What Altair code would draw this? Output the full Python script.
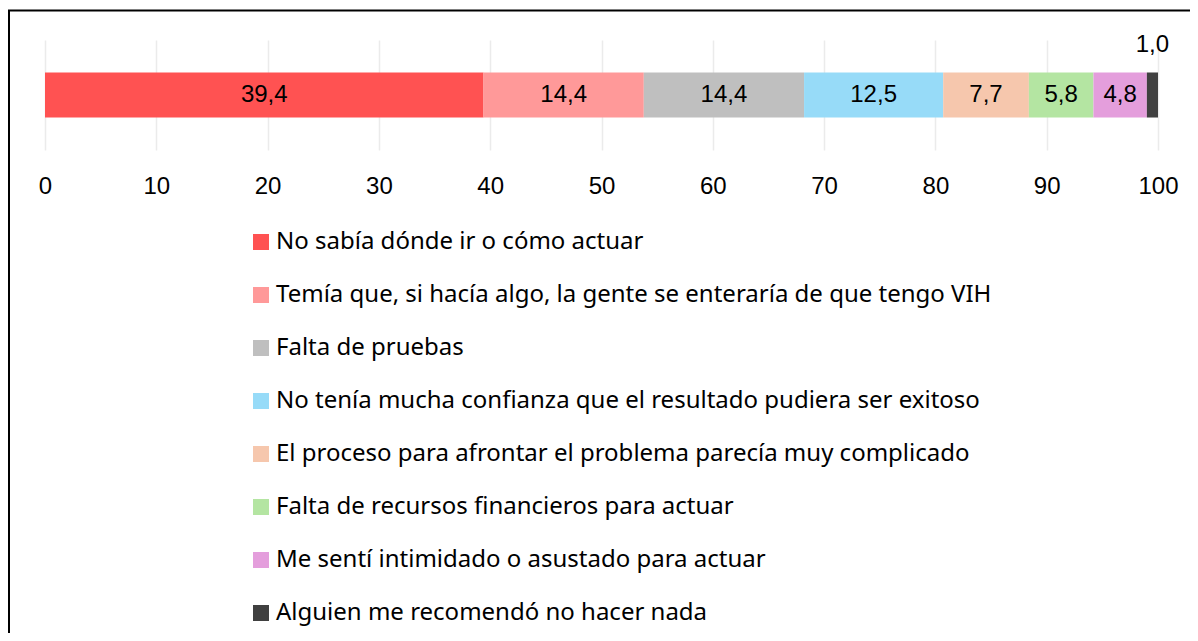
import altair as alt
import pandas as pd

categories = [
    "No sabía dónde ir o cómo actuar",
    "Temía que, si hacía algo, la gente se enteraría de que tengo VIH",
    "Falta de pruebas",
    "No tenía mucha confianza que el resultado pudiera ser exitoso",
    "El proceso para afrontar el problema parecía muy complicado",
    "Falta de recursos financieros para actuar",
    "Me sentí intimidado o asustado para actuar",
    "Alguien me recomendó no hacer nada",
]
values = [39.4, 14.4, 14.4, 12.5, 7.7, 5.8, 4.8, 1.0]
colors = ["#FF5252", "#FF9999", "#BFBFBF", "#97DBF8", "#F6C7AD", "#B4E5A2", "#E49EDC", "#404040"]
ticks = [0, 10, 20, 30, 40, 50, 60, 70, 80, 90, 100]

ends = pd.Series(values).cumsum()
df = pd.DataFrame({
    "cat": categories,
    "value": values,
    "start": ends - pd.Series(values),
    "end": ends,
    "row": "r",
})
df["mid"] = (df["start"] + df["end"]) / 2
df["label"] = [f"{v:.1f}".replace(".", ",") for v in values]
df["above"] = [v < 2 for v in values]

xscale = alt.Scale(domain=[0, 100], nice=False)
yscale = alt.Scale(paddingInner=0.419, paddingOuter=0.419)
NUMFONT = "Liberation Sans"

base = alt.Chart(df)

bars = base.mark_bar().encode(
    x=alt.X("start:Q", scale=xscale, title=None,
            axis=alt.Axis(values=ticks, domain=False, ticks=False, labelFontSize=24,
                          labelFont=NUMFONT, labelColor="black", labelPadding=24,
                          labelFlush=False, labelOverlap=False,
                          grid=True, gridColor="#EBEBEB", gridWidth=1.5)),
    x2="end:Q",
    y=alt.Y("row:N", axis=None, scale=yscale),
    color=alt.Color("cat:N", sort=categories,
                    scale=alt.Scale(domain=categories, range=colors),
                    legend=alt.Legend(title=None, orient="none", legendX=204, legendY=190,
                                      symbolType="square", symbolSize=256, symbolStrokeWidth=0,
                                      labelFont="Noto Sans", labelFontSize=24, labelColor="black",
                                      labelOffset=3, rowPadding=29, padding=0, labelLimit=900)),
)

inside = base.transform_filter("!datum.above").mark_text(
    fontSize=24, font=NUMFONT, color="black", baseline="middle"
).encode(x="mid:Q", y=alt.Y("row:N", scale=yscale), text="label:N")

outside = base.transform_filter("datum.above").mark_text(
    fontSize=24, font=NUMFONT, color="black", baseline="middle", dy=-50
).encode(x="mid:Q", y=alt.Y("row:N", scale=yscale), text="label:N")

frame_df = pd.DataFrame({"a": [0]})
frame_left = alt.Chart(frame_df).mark_rule(color="black", strokeWidth=2).encode(
    x=alt.value(-36), y=alt.value(-29.5), y2=alt.value(700))
frame_top = alt.Chart(frame_df).mark_rule(color="black", strokeWidth=2).encode(
    x=alt.value(-37), x2=alt.value(1200), y=alt.value(-29.5))

chart = alt.layer(bars, inside, outside, frame_left, frame_top).properties(
    width=1113, height=110,
    autosize=alt.AutoSizeParams(type="none"),
    padding={"left": 37, "top": 32, "right": 32, "bottom": 483},
    background="white",
).configure_view(stroke=None)

chart.save("out.html", embed_options={"renderer": "svg", "actions": False})
